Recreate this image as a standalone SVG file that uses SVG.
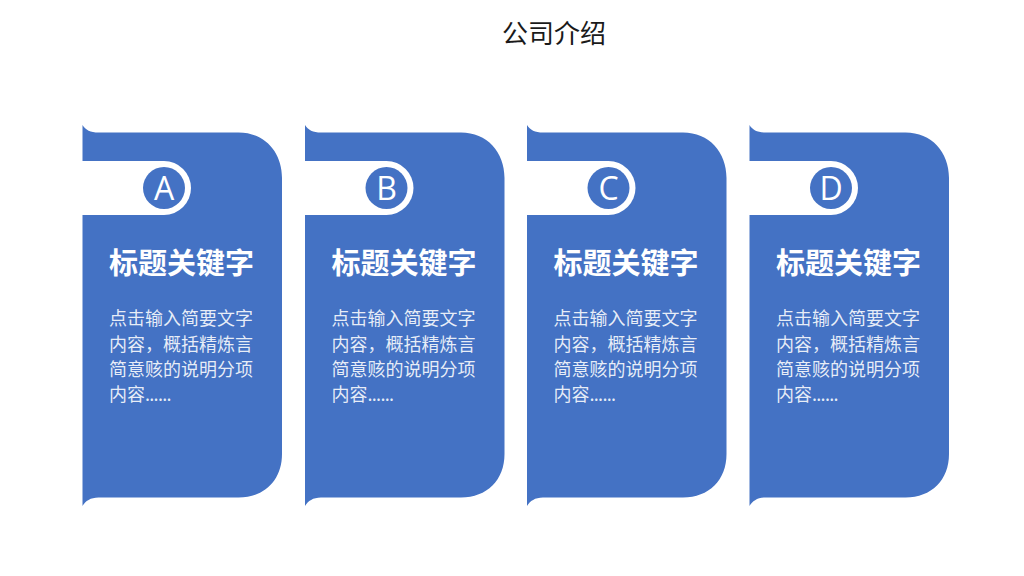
<svg xmlns="http://www.w3.org/2000/svg" width="1024" height="576" viewBox="0 0 1024 576">
<style>
text{font-family:"Noto Sans CJK SC","Noto Sans",sans-serif}
.card{fill:#4472c4}
.notch{fill:#fff}
.dot{fill:#4472c4}
.letter{font-family:"Open Sans","Noto Sans",sans-serif;font-size:32px;fill:#fff;text-anchor:middle}
.head{font-size:29px;font-weight:700;fill:#fff}
.body{font-size:18px;fill:#fff;fill-opacity:.88}
.dots{letter-spacing:-.7px}
.title{font-size:26px;fill:#1a1a1a}
</style>
<defs>
<path id="card" class="card" d="M0 125C3 130 8 132.500 16 132.500H156C182 132.500 199.500 152 199.500 178V454C199.500 480 182 497.500 156 497.500H16C8 497.500 3 501 0 506Z"/>
<path id="notch" class="notch" d="M-1 161H81.500A27 27 0 0 1 81.500 215H-1Z"/>
<g id="copy">
<text class="head" x="26.500" y="273.500">标题关键字</text>
<text class="body" x="26.500" y="325">点击输入简要文字</text>
<text class="body" x="26.500" y="350.500">内容，概括精炼言</text>
<text class="body" x="26.500" y="376">简意赅的说明分项</text>
<text class="body" x="26.500" y="401">内容<tspan class="dots">......</tspan></text>
</g>
</defs>
<text class="title" x="502" y="43">公司介绍</text>
<g id="node-a" transform="translate(82.500 0)"><use href="#card"/><use href="#notch"/><circle class="dot" cx="81.500" cy="188" r="21"/><text class="letter" x="81.500" y="200">A</text><use href="#copy"/></g>
<g id="node-b" transform="translate(305 0)"><use href="#card"/><use href="#notch"/><circle class="dot" cx="81.500" cy="188" r="21"/><text class="letter" x="81.500" y="200">B</text><use href="#copy"/></g>
<g id="node-c" transform="translate(527 0)"><use href="#card"/><use href="#notch"/><circle class="dot" cx="81.500" cy="188" r="21"/><text class="letter" x="81.500" y="200">C</text><use href="#copy"/></g>
<g id="node-d" transform="translate(749.500 0)"><use href="#card"/><use href="#notch"/><circle class="dot" cx="81.500" cy="188" r="21"/><text class="letter" x="81.500" y="200">D</text><use href="#copy"/></g>
<g id="connectors"/>
</svg>
